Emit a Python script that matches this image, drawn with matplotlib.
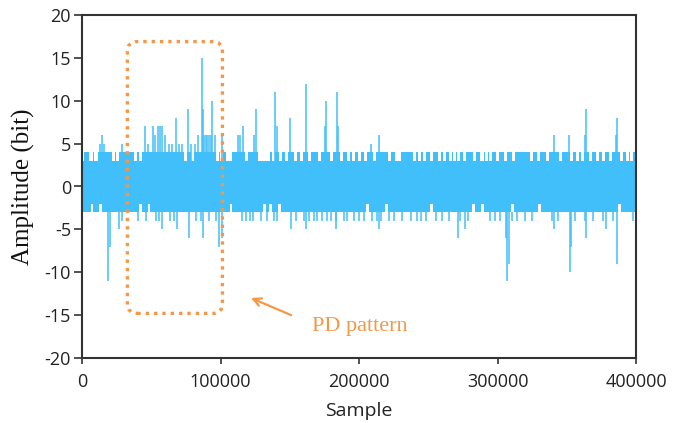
import numpy as np
import matplotlib
matplotlib.use("Agg")
import matplotlib.pyplot as plt
from matplotlib.patches import FancyBboxPatch

# Noise floor of the record (bit)
core_top = 3
core_bottom = -3
ripple_top = 4
sample_end = 400000

# Samples where the upper floor drops back to 3 (otherwise it sits at 4)
top_dips = [700, 6500, 10100, 22400, 25300, 38300, 41900, 74500, 79500, 97600,
            100500, 104800, 107000, 118600, 128000, 130100, 132800, 134600, 138200,
            143500, 147900, 154400, 158300, 164500, 171400, 180400, 187600, 192300,
            195900, 200300, 204600, 211500, 222000, 227000, 229200, 240000, 243700,
            247300, 252300, 258100, 261700, 266100, 269000, 271800, 276200, 283200,
            288800, 292100, 294800, 299700, 305700, 311600, 324400, 329700, 336200,
            345600, 353600, 357900, 361100, 367300, 372000, 376700, 381700, 389500,
            393600, 396900]

# Samples where the lower floor rises to -2
bottom_rises = [7200, 13500, 42400, 48400, 107500, 131600, 135900, 142400, 206100,
                219800, 252300, 282700, 289200, 310900, 330400, 388300]

# Samples touching -4
bottom_ticks = [28900, 40500, 46300, 53500, 55700, 63600, 66500, 82400, 86000, 91800,
                96900, 115700, 118600, 121500, 123600, 129400, 133800, 138800, 141000,
                154700, 160500, 164100, 167700, 169900, 173500, 177100, 180100, 183700,
                189400, 191600, 196700, 200300, 203900, 209700, 213300, 216200, 222000,
                225600, 230700, 237900, 242200, 245100, 248700, 255900, 259600, 265300,
                272600, 278400, 294300, 297900, 301500, 310200, 313800, 319600, 324600,
                339100, 343400, 355700, 362900, 368700, 376000, 383200, 397700]

# Positive discharge pulses: sample, peak amplitude
pos_x = [13000, 14700, 16200, 29000, 45500, 48000, 51300, 53000, 54800, 56400,
         58000, 60000, 62500, 65000, 67700, 70000, 72500, 76400, 79000, 81500,
         84000, 86300, 87500, 88000, 89200, 90400, 91600, 92800, 94200, 96000,
         101400, 112300, 114000, 115900, 124400, 125600, 139500, 140500, 150400,
         161700, 175200, 176200, 183900, 184700, 208700, 214700, 340800, 351600,
         362900, 363900, 385400, 386300]
pos_peak = [5, 6, 5, 5, 7, 5, 7, 6, 7, 7,
            7, 6, 5, 5, 8, 5, 5, 9, 5, 5,
            6, 15, 9, 6, 6, 6, 6, 6, 10, 6,
            6, 6, 6, 7, 6, 9, 11, 7, 8,
            12, 7, 10, 11, 7, 5, 6, 6, 6,
            6, 9, 6, 8]

# Negative discharge pulses: sample, trough amplitude
neg_x = [18800, 20000, 26700, 58100, 68900, 77400, 87500, 98600, 101000, 150900,
         161700, 183400, 214700, 271400, 276200, 306000, 306800, 308200, 340500,
         352100, 352900, 364200, 378600, 386300]
neg_trough = [-11, -7, -5, -5, -5, -6, -6, -7, -6, -5,
              -5, -5, -5, -6, -5, -6, -11, -9, -5,
              -10, -7, -6, -5, -9]

# Outline around the PD section
box_x = (32750, 101400)
box_y = (-14.8, 16.9)

signal_color = '#41BFFB'
accent = '#F79646'


def step_edge(base, level, centers, half):
    xs, ys = [0], [base]
    for c in sorted(centers):
        xs += [c - half, c + half]
        ys += [level, base]
    xs.append(sample_end)
    ys.append(base)
    return np.array(xs, float), np.array(ys, float)


W, H = 680, 423
fig = plt.figure(figsize=(W / 100, H / 100), dpi=100)
ax = fig.add_axes([82 / W, 1 - 358 / H, (636 - 82) / W, (358 - 15) / H])

# noise floor
xt, yt = step_edge(ripple_top, core_top, top_dips, 1100)
ax.fill_between(xt, -1, yt, step='post', color=signal_color, lw=0)
xb, yb = step_edge(core_bottom, core_bottom + 1, bottom_rises, 1000)
ax.fill_between(xb, yb, 1, step='post', color=signal_color, lw=0)
ax.vlines(bottom_ticks, core_bottom, core_bottom - 1, color=signal_color, lw=1.1)

# pulses
ax.vlines(pos_x, core_top, pos_peak, color=signal_color, lw=1.1)
ax.vlines(neg_x, core_bottom, neg_trough, color=signal_color, lw=1.1)

ax.set_xlim(0, sample_end)
ax.set_ylim(-20, 20)
ax.set_xticks([0, 100000, 200000, 300000, 400000])
ax.set_yticks(np.arange(-20, 21, 5))

tick_font = {'family': 'Open Sans', 'size': 13}
ax.set_xticklabels(['0', '100000', '200000', '300000', '400000'], fontdict=tick_font, color='#222222')
ax.set_yticklabels([str(v) for v in range(-20, 21, 5)], fontdict=tick_font, color='#222222')
ax.tick_params(axis='x', direction='out', length=4, width=1.2, color='#333333', pad=7)
ax.tick_params(axis='y', direction='out', length=6, width=1.2, color='#333333', pad=2)
for side in ['left', 'bottom', 'right', 'top']:
    ax.spines[side].set_linewidth(1.5)
    ax.spines[side].set_color('#333333')

ax.set_xlabel('Sample', family='Open Sans', fontsize=14, color='#222222', labelpad=8)
ax.set_ylabel('Amplitude (bit)', family='Liberation Serif', fontsize=18, color='#111111', labelpad=7)

# rounded dotted frame; aspect keeps the corners circular on screen
x_per_px = sample_end / (636 - 82)
y_per_px = 40 / (358 - 15)
frame = FancyBboxPatch((box_x[0], box_y[0]), box_x[1] - box_x[0], box_y[1] - box_y[0],
                       boxstyle='round,pad=0,rounding_size=%f' % (10 * x_per_px),
                       mutation_aspect=y_per_px / x_per_px,
                       fill=False, ec=accent, lw=2.4, ls=(0, (1, 1.5)), zorder=5)
ax.add_patch(frame)

ax.annotate('', xy=(122000, -13.0), xytext=(151000, -15.0),
            arrowprops=dict(arrowstyle='->', color=accent, lw=1.6,
                            mutation_scale=14, shrinkA=0, shrinkB=0))
ax.text(166300, -16.3, 'PD pattern', family='Liberation Serif', fontsize=16,
        color=accent, ha='left', va='center')

fig.savefig('out.png', dpi=100)
